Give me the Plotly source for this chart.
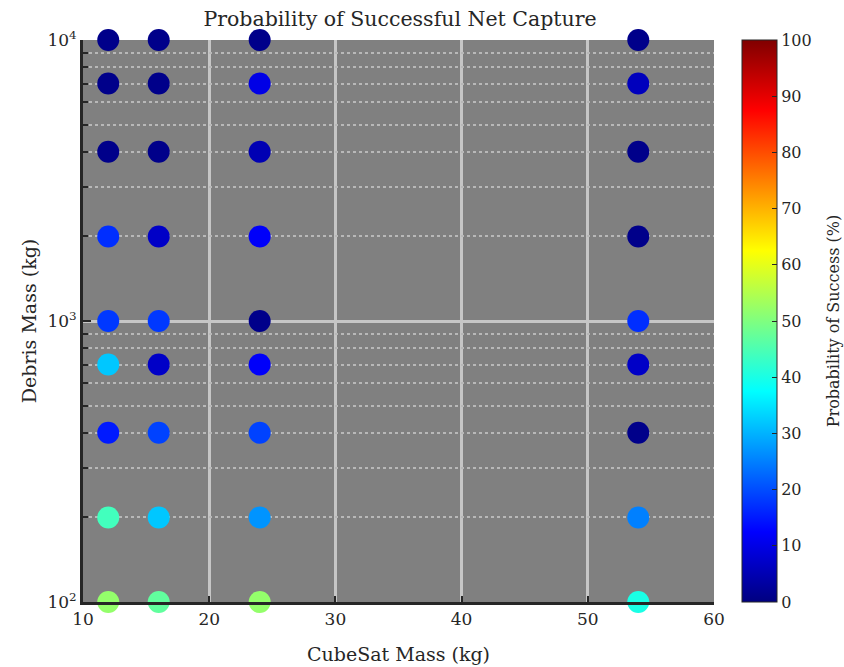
import plotly.graph_objects as go

cubesat_mass = [12, 16, 24, 54]
debris_mass = [100, 200, 400, 700, 1000, 2000, 4000, 7000, 10000]
# probability of success (%) for each cubesat mass, ordered by debris_mass
prob_12 = [52, 44, 15, 32, 18, 17, 1, 1, 1]
prob_16 = [47, 32, 19, 7, 18, 7, 1, 1, 1]
prob_24 = [52, 27, 19, 12, 1, 12, 5, 10, 1]
prob_54 = [40, 25, 1, 7, 17, 1, 1, 6, 1]
y_tickvals = [100, 1000, 10000]
y_ticktext = ["10<sup>2</sup>", "10<sup>3</sup>", "10<sup>4</sup>"]
y_minor_ticks = [200, 300, 400, 500, 600, 700, 800, 900,
                 2000, 3000, 4000, 5000, 6000, 7000, 8000, 9000]
x_tickvals = [10, 20, 30, 40, 50, 60]
cbar_ticks = [0, 10, 20, 30, 40, 50, 60, 70, 80, 90, 100]

probs = [prob_12, prob_16, prob_24, prob_54]
xs, ys, cs = [], [], []
for m, p in zip(cubesat_mass, probs):
    for d, v in zip(debris_mass, p):
        xs.append(m)
        ys.append(d)
        cs.append(v)

jet = [[0, "#000080"], [0.125, "#0000ff"], [0.375, "#00ffff"],
       [0.625, "#ffff00"], [0.875, "#ff0000"], [1, "#800000"]]

FONT = "DejaVu Serif"
INK = "#262626"

fig = go.Figure()
# invisible helper trace to carry the minor-grid overlay axis
fig.add_trace(go.Scatter(x=[], y=[], xaxis="x", yaxis="y2", showlegend=False,
                         hoverinfo="skip"))
fig.add_trace(go.Scatter(
    x=xs, y=ys, mode="markers", cliponaxis=False,
    marker=dict(size=22, color=cs, colorscale=jet, cmin=0, cmax=100,
                line=dict(width=0),
                colorbar=dict(
                    x=1.044, xanchor="left", xpad=0, y=0.5, yanchor="middle",
                    ypad=0, len=1.0, lenmode="fraction", thickness=35,
                    outlinecolor=INK, outlinewidth=1,
                    tickvals=cbar_ticks, ticks="inside", ticklen=5,
                    tickcolor=INK,
                    tickfont=dict(family=FONT, size=16, color=INK),
                )),
    showlegend=False,
))

fig.add_annotation(
    text="Probability of Success (%)", textangle=-90,
    xref="paper", yref="paper", x=1.189, y=0.5,
    xanchor="center", yanchor="middle", showarrow=False,
    font=dict(family=FONT, size=16, color=INK),
)

fig.update_layout(
    width=844, height=667,
    margin=dict(l=83, r=130, t=40, b=65, autoexpand=False),
    paper_bgcolor="white",
    plot_bgcolor="#808080",
    title=dict(text="Probability of Successful Net Capture", x=0.474, xanchor="center",
               y=0.972, yanchor="middle",
               font=dict(family=FONT, size=20.5, color=INK)),
    xaxis=dict(
        range=[10, 60], tickvals=x_tickvals, automargin=False,
        showline=True, linecolor=INK, linewidth=3,
        ticks="inside", ticklen=6, tickcolor=INK, tickwidth=2,
        showgrid=True, gridcolor="#c6c6c6", gridwidth=2.5,
        zeroline=False,
        tickfont=dict(family=FONT, size=17, color=INK),
        title=dict(text="CubeSat Mass (kg)", standoff=20,
                   font=dict(family=FONT, size=19, color=INK)),
    ),
    yaxis2=dict(
        type="log", range=[2, 4], overlaying="y", side="left",
        tickvals=y_minor_ticks, showticklabels=False, automargin=False,
        ticks="inside", ticklen=5, tickcolor=INK, tickwidth=2,
        showgrid=True, gridcolor="#b8b8b8", gridwidth=2, griddash="3px,3px",
        zeroline=False, showline=False,
    ),
    yaxis=dict(
        type="log", range=[2, 4], automargin=False,
        tickvals=y_tickvals, ticktext=y_ticktext,
        showline=True, linecolor=INK, linewidth=3,
        ticks="inside", ticklen=8, tickcolor=INK, tickwidth=2,
        showgrid=True, gridcolor="#c6c6c6", gridwidth=2.5,
        zeroline=False,
        tickfont=dict(family=FONT, size=17, color=INK),
        title=dict(text="Debris Mass (kg)", standoff=6,
                   font=dict(family=FONT, size=19, color=INK)),
    ),
)

fig.write_html("out.html", config={"displayModeBar": False},
               post_script="document.body.style.margin='0';document.body.style.overflow='hidden';")
